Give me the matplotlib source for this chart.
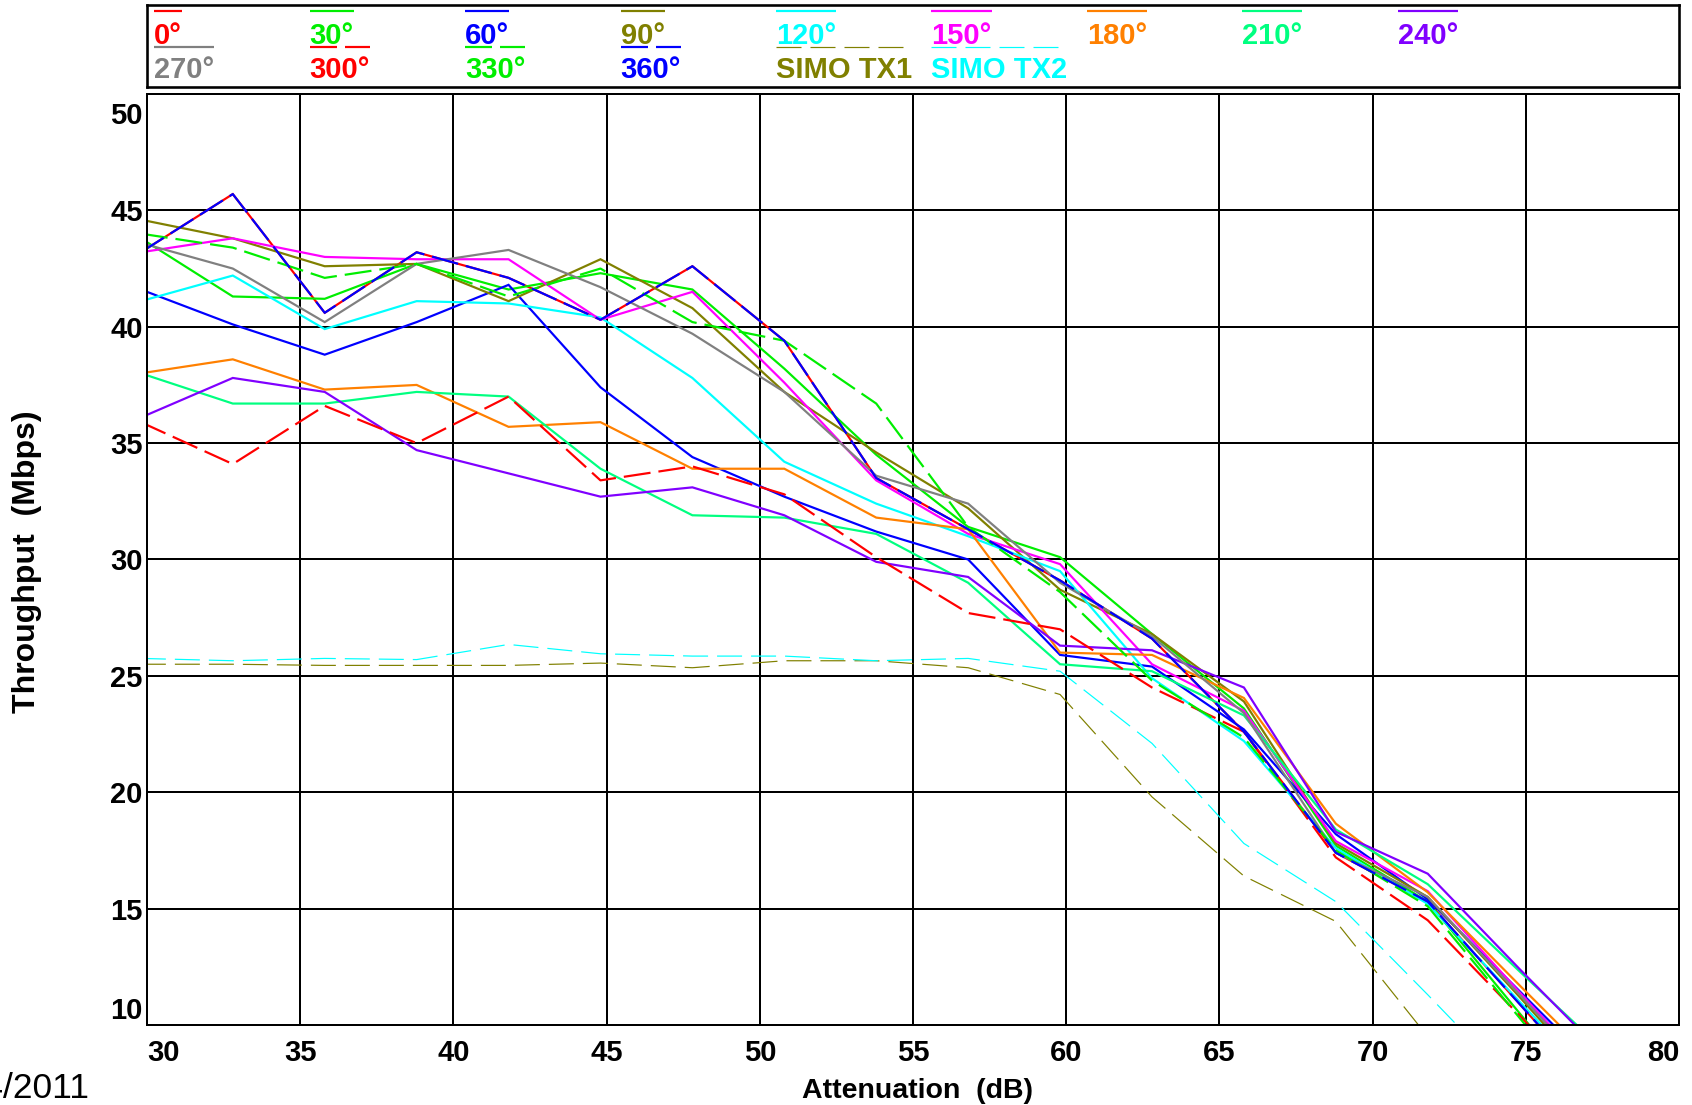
import matplotlib
matplotlib.use("Agg")
import matplotlib.pyplot as plt
from matplotlib.transforms import ScaledTranslation

plt.rcParams['font.family'] = ['Liberation Sans', 'DejaVu Sans']
plt.rcParams['lines.scale_dashes'] = False

W, H = 1692, 1105

# Attenuation steps (dB)
attenuation = [29.8, 32.8, 35.8, 38.8, 41.8, 44.8, 47.8, 50.8, 53.8,
               56.8, 59.8, 62.8, 65.8, 68.8, 71.8, 74.8, 77.8]

# Throughput (Mbps) per turntable angle
thr_0 = [43.2, 45.7, 40.6, 43.2, 42.1, 40.3, 42.6, 39.4, 33.5, 31.3, 29.1, 26.6, 22.6, 17.4, 15.3, 10.9, 6.5]
thr_30 = [43.8, 41.3, 41.2, 42.7, 41.6, 42.3, 41.6, 38.2, 34.5, 31.4, 30.1, 26.8, 23.6, 17.7, 15.3, 10.5, 5.7]
thr_60 = [41.6, 40.1, 38.8, 40.2, 41.8, 37.4, 34.4, 32.7, 31.2, 30.0, 25.9, 25.4, 22.7, 18.2, 15.4, 11.45, 7.5]
thr_90 = [44.6, 43.8, 42.6, 42.7, 41.1, 42.9, 40.8, 37.2, 34.6, 32.2, 28.7, 26.8, 23.9, 17.8, 15.5, 11.2, 6.8]
thr_120 = [41.1, 42.2, 39.9, 41.1, 41.0, 40.4, 37.8, 34.2, 32.4, 31.0, 29.5, 24.9, 22.2, 17.6, 15.2, 11.0, 6.8]
thr_150 = [43.2, 43.8, 43.0, 42.9, 42.9, 40.3, 41.5, 37.6, 33.4, 31.1, 29.8, 25.5, 23.5, 17.9, 15.75, 11.4, 7.1]
thr_180 = [38.0, 38.6, 37.3, 37.5, 35.7, 35.9, 33.9, 33.9, 31.8, 31.3, 26.0, 25.9, 24.05, 18.65, 15.7, 11.7, 7.75]
thr_210 = [38.0, 36.7, 36.7, 37.2, 37.0, 33.9, 31.9, 31.8, 31.1, 29.0, 25.5, 25.2, 23.3, 18.4, 16.05, 12.3, 8.6]
thr_240 = [36.1, 37.8, 37.2, 34.7, 33.7, 32.7, 33.1, 31.9, 29.9, 29.25, 26.3, 26.1, 24.5, 18.3, 16.5, 12.4, 8.4]
thr_270 = [43.6, 42.5, 40.2, 42.7, 43.3, 41.7, 39.7, 37.2, 33.6, 32.4, 29.0, 26.7, 23.4, 17.4, 15.5, 11.3, 7.0]
thr_300 = [35.9, 34.1, 36.6, 35.0, 37.0, 33.4, 34.0, 32.8, 30.1, 27.7, 27.0, 24.5, 22.6, 17.2, 14.5, 10.4, 6.3]
thr_330 = [44.0, 43.4, 42.1, 42.7, 41.3, 42.5, 40.2, 39.4, 36.7, 31.4, 28.6, 24.8, 22.35, 17.5, 15.1, 10.3, 5.5]
thr_360 = [43.2, 45.7, 40.6, 43.2, 42.1, 40.3, 42.6, 39.4, 33.5, 31.3, 29.1, 26.6, 22.6, 17.4, 15.3, 10.9, 6.5]
simo_tx1 = [25.5, 25.5, 25.45, 25.45, 25.45, 25.55, 25.35, 25.65, 25.65, 25.35, 24.2, 19.8, 16.4, 14.45, 9.5, 5.0, 1.0]
simo_tx2 = [25.75, 25.65, 25.75, 25.7, 26.35, 25.95, 25.85, 25.85, 25.65, 25.75, 25.2, 22.1, 17.8, 15.3, 11.3, 7.2, 3.0]

labels = ["0°", "30°", "60°", "90°", "120°", "150°", "180°", "210°", "240°",
          "270°", "300°", "330°", "360°", "SIMO TX1", "SIMO TX2"]
series = [thr_0, thr_30, thr_60, thr_90, thr_120, thr_150, thr_180, thr_210, thr_240,
          thr_270, thr_300, thr_330, thr_360, simo_tx1, simo_tx2]
colors = ["#ff0000", "#00ee00", "#0000ff", "#808000", "#00ffff", "#ff00ff", "#ff8000",
          "#00ff80", "#8000ff", "#808080", "#ff0000", "#00ee00", "#0000ff", "#808000", "#00ffff"]
kinds = ["solid"] * 10 + ["dash"] * 3 + ["thin"] * 2

x_ticks = [30, 35, 40, 45, 50, 55, 60, 65, 70, 75, 80]
y_ticks = [10, 15, 20, 25, 30, 35, 40, 45, 50]

PT = 72 / 100.0  # points per pixel at dpi=100


def style(kind):
    if kind == "solid":
        return dict(lw=2.2 * PT, ls="-")
    if kind == "dash":
        return dict(lw=2.2 * PT, ls=(0, (27 * PT, 8 * PT)))
    return dict(lw=1.2 * PT, ls=(0, (25 * PT, 9 * PT)))


fig = plt.figure(figsize=(W / 100, H / 100), dpi=100)

# main plot area
left, right, top, bottom = 147, 1679, 94, 1025
ax = fig.add_axes([left / W, 1 - bottom / H, (right - left) / W, (bottom - top) / H])
for ys, c, k in zip(series, colors, kinds):
    ax.plot(attenuation, ys, color=c, solid_joinstyle="miter", **style(k))

ax.set_xlim(30, 80)
ax.set_ylim(10, 50)
ax.set_axisbelow(True)
ax.grid(True, color="black", lw=2.0 * PT)
ax.set_xticks(x_ticks)
ax.set_yticks(y_ticks)
ax.set_xticklabels([str(v) for v in x_ticks])
ax.set_yticklabels([str(v) for v in y_ticks])
ax.tick_params(length=0, labelsize=21)
ax.tick_params(axis="x", pad=10)
ax.tick_params(axis="y", pad=3)
for lab in ax.get_xticklabels() + ax.get_yticklabels():
    lab.set_fontweight("bold")
xl = ax.get_xticklabels()
xl[0].set_ha("left")
xl[-1].set_ha("right")
yl = ax.get_yticklabels()
yl[0].set_va("bottom")
yl[-1].set_va("top")
yl[-1].set_transform(yl[-1].get_transform() + ScaledTranslation(0, -0.08, fig.dpi_scale_trans))
for s in ax.spines.values():
    s.set_linewidth(2.0 * PT)
    s.set_color("black")

fig.text(918 / W, 1 - 1098 / H, "Attenuation  (dB)", ha="center", va="baseline",
         fontsize=20.5, fontweight="bold")
fig.text(27.5 / W, 1 - 562 / H, "Throughput  (Mbps)", ha="center", va="center",
         rotation=90, fontsize=23, fontweight="bold")
fig.text(90 / W, 1 - 1098 / H, "3/14/2011", ha="right", va="baseline", fontsize=25.5)

# legend panel, in pixel units
lg_top, lg_bot = 5, 87
lax = fig.add_axes([left / W, 1 - lg_bot / H, (right - left) / W, (lg_bot - lg_top) / H])
lax.set_xlim(left, right)
lax.set_ylim(lg_bot, lg_top)
lax.set_xticks([])
lax.set_yticks([])
for s in lax.spines.values():
    s.set_linewidth(2.6 * PT)
    s.set_color("black")

renderer = fig.canvas.get_renderer()
col_x0, col_dx = 154.3, 155.4
rows = [(11, 43.5), (47, 78.5)]
for i, (lab, c, k) in enumerate(zip(labels, colors, kinds)):
    r, col = divmod(i, 9)
    line_y, base_y = rows[r]
    x0 = col_x0 + col * col_dx
    t = lax.text(x0, base_y, lab, color=c, fontsize=21, fontweight="bold",
                 ha="left", va="baseline")
    wpx = t.get_window_extent(renderer).width
    lax.plot([x0, x0 + wpx], [line_y, line_y], color=c, solid_capstyle="butt",
             dash_capstyle="butt", **style(k))

fig.savefig("out.png", dpi=100)
